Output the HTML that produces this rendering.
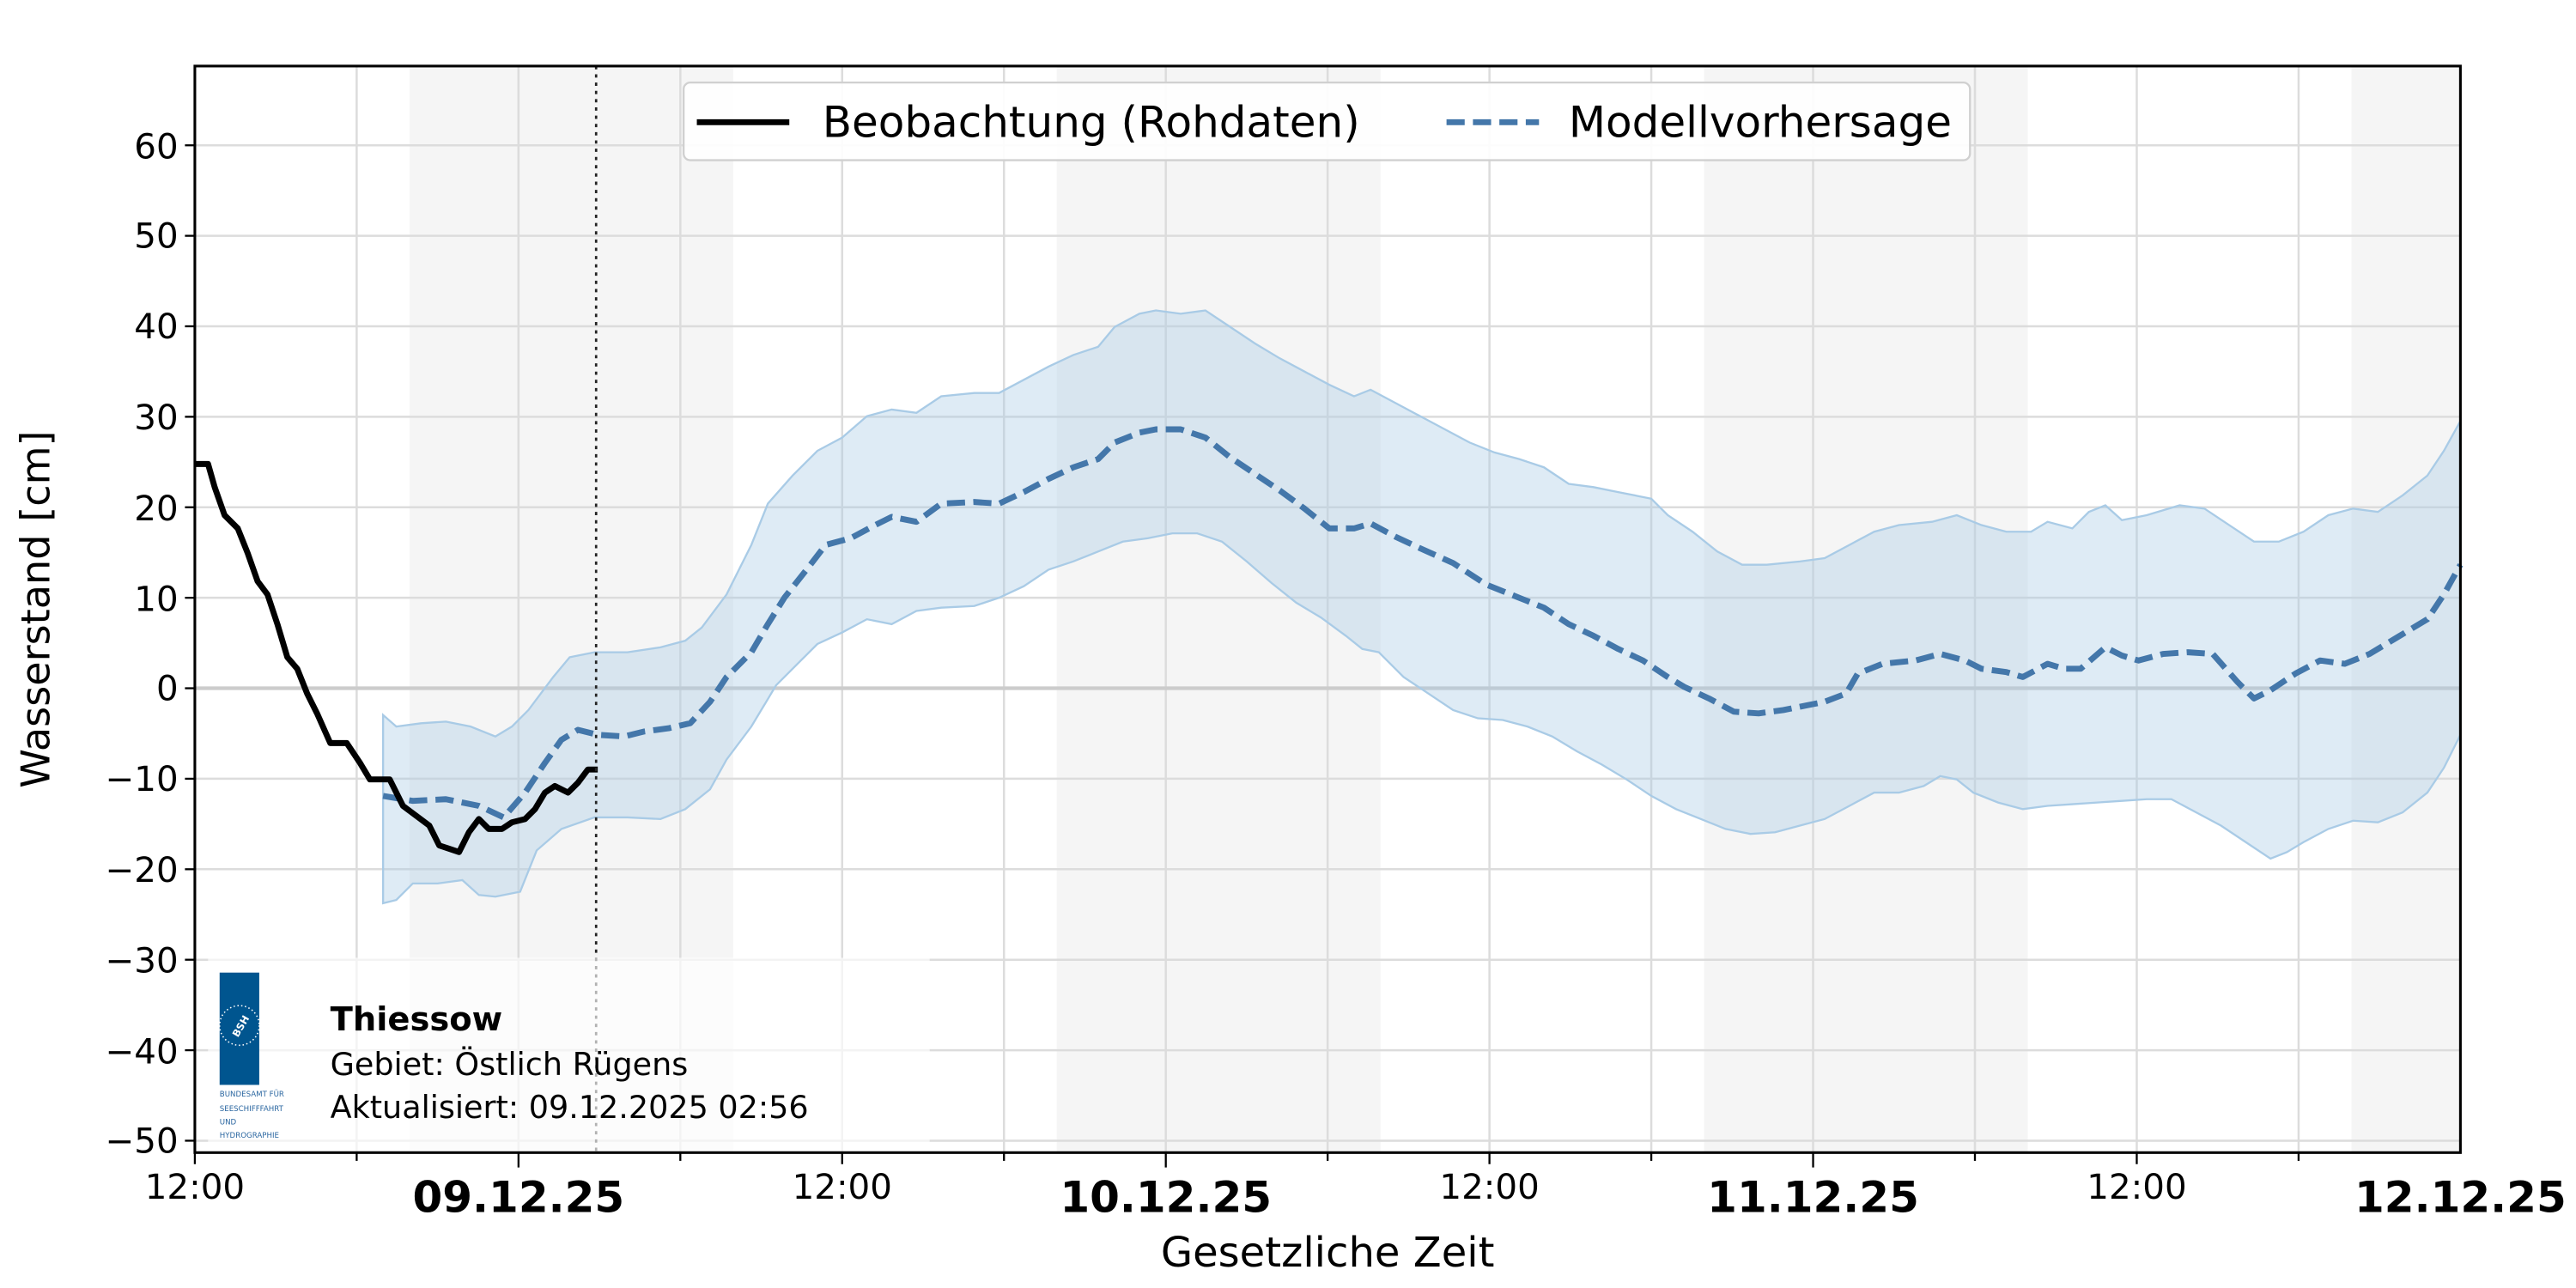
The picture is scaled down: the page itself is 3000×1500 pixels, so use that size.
<!DOCTYPE html>
<html><head><meta charset="utf-8"><style>html,body{margin:0;padding:0;background:#fff}svg{display:block}text{font-family:"DejaVu Sans","Liberation Sans",sans-serif}</style></head>
<body>
<svg width="3000" height="1500" viewBox="0 0 1560 780" xmlns="http://www.w3.org/2000/svg">
<rect width="1560" height="780" fill="#fff"/>
<g fill="#f5f5f5">
<rect x="248" y="40" width="196" height="658"/><rect x="640" y="40" width="196" height="658"/><rect x="1032" y="40" width="196" height="658"/><rect x="1424" y="40" width="66" height="658"/>
</g>
<g stroke="#dcdcdc" stroke-width="1.3">
<line x1="216" y1="40" x2="216" y2="698"/><line x1="314" y1="40" x2="314" y2="698"/><line x1="412" y1="40" x2="412" y2="698"/><line x1="510" y1="40" x2="510" y2="698"/><line x1="608" y1="40" x2="608" y2="698"/><line x1="706" y1="40" x2="706" y2="698"/><line x1="804" y1="40" x2="804" y2="698"/><line x1="902" y1="40" x2="902" y2="698"/><line x1="1000" y1="40" x2="1000" y2="698"/><line x1="1098" y1="40" x2="1098" y2="698"/><line x1="1196" y1="40" x2="1196" y2="698"/><line x1="1294" y1="40" x2="1294" y2="698"/><line x1="1392" y1="40" x2="1392" y2="698"/>
<line x1="118" y1="88" x2="1490" y2="88"/><line x1="118" y1="142.8" x2="1490" y2="142.8"/><line x1="118" y1="197.6" x2="1490" y2="197.6"/><line x1="118" y1="252.4" x2="1490" y2="252.4"/><line x1="118" y1="307.2" x2="1490" y2="307.2"/><line x1="118" y1="362" x2="1490" y2="362"/><line x1="118" y1="471.6" x2="1490" y2="471.6"/><line x1="118" y1="526.4" x2="1490" y2="526.4"/><line x1="118" y1="581.2" x2="1490" y2="581.2"/><line x1="118" y1="636" x2="1490" y2="636"/><line x1="118" y1="690.8" x2="1490" y2="690.8"/>
</g>
<line x1="118" y1="416.8" x2="1490" y2="416.8" stroke="#cccccc" stroke-width="2.2"/>
<polygon fill="#a9cbe6" fill-opacity="0.38" stroke="#a9cbe6" stroke-width="1.2" points="232,433 240,440 255,438 270,437 285,440 300,446 310,440 320,430 335,410 345,398 360,395 380,395 400,392 415,388 425,380 440,360 455,330 465,305 480,288 495,273 510,265 525,252 540,248 555,250 570,240 590,238 605,238 620,230 635,222 650,215 665,210 675,198 690,190 700,188 715,190 730,188 745,198 760,208 775,217 790,225 805,233 820,240 830,236 845,244 860,252 875,260 890,268 905,274 920,278 935,283 950,293 965,295 980,298 1000,302 1010,312 1025,322 1040,334 1055,342 1070,342 1090,340 1105,338 1120,330 1135,322 1150,318 1170,316 1185,312 1200,318 1215,322 1230,322 1240,316 1255,320 1265,310 1275,306 1285,315 1300,312 1320,306 1335,308 1350,318 1365,328 1380,328 1395,322 1410,312 1425,308 1440,310 1455,300 1470,288 1480,273 1490,255 1490,445 1480,465 1470,480 1455,492 1440,498 1425,497 1410,502 1395,510 1385,516 1375,520 1360,510 1345,500 1330,492 1315,484 1300,484 1285,485 1270,486 1255,487 1240,488 1225,490 1210,486 1195,480 1185,472 1175,470 1165,476 1150,480 1135,480 1120,488 1105,496 1090,500 1075,504 1060,505 1045,502 1030,496 1015,490 1000,482 985,472 970,463 955,455 940,446 925,440 910,436 895,435 880,430 865,420 850,410 835,395 825,393 815,385 800,374 785,365 770,353 755,340 740,328 725,323 710,323 695,326 680,328 665,334 650,340 635,345 620,355 605,362 590,367 570,368 555,370 540,378 525,375 510,383 495,390 485,400 470,415 455,440 440,460 430,478 415,490 400,496 380,495 360,495 340,502 325,515 315,540 300,543 290,542 280,533 265,535 250,535 240,545 232,547"/>
<polyline fill="none" stroke="#4477aa" stroke-width="3.6" stroke-dasharray="11,5" stroke-linejoin="round" points="232,482 250,485 270,484 290,488 305,495 318,480 330,462 340,448 350,442 362,445 378,446 390,443 405,441 418,438 430,425 440,410 455,395 465,378 475,362 490,343 500,330 515,326 530,318 540,313 555,316 570,305 590,304 605,305 620,298 635,290 650,283 665,278 675,268 690,262 700,260 715,260 730,265 745,277 760,287 775,297 790,308 805,320 820,320 830,317 845,325 860,332 880,341 900,354 920,362 935,368 950,378 965,385 980,393 995,400 1010,410 1020,416 1035,423 1050,431 1065,432 1080,430 1095,427 1105,425 1118,420 1125,408 1140,402 1160,400 1175,396 1190,400 1200,405 1215,407 1225,410 1240,402 1250,405 1260,405 1275,392 1285,397 1295,400 1310,396 1325,395 1340,396 1355,413 1365,423 1375,418 1390,408 1405,400 1420,402 1435,396 1450,387 1470,375 1480,360 1490,342"/>
<polyline fill="none" stroke="#000" stroke-width="3.6" stroke-linejoin="round" points="118,281 126,281 130,295 136,312 144,320 150,335 156,352 162,360 168,378 174,398 180,405 186,420 192,432 200,450 210,450 218,462 224,472 236,472 244,488 252,494 260,500 266,512 272,514 278,516 284,504 290,496 296,502 304,502 310,498 318,496 324,490 330,480 336,476 344,480 350,474 356,466 362,466"/>
<line x1="361" y1="40" x2="361" y2="698" stroke="#222" stroke-width="1.4" stroke-dasharray="2,3"/>
<rect x="126" y="580" width="437" height="118" fill="#fff" fill-opacity="0.65"/>
<rect x="133" y="589" width="24" height="68" fill="#00558f"/>
<circle cx="145" cy="621" r="12" fill="none" stroke="#fff" stroke-width="0.8" stroke-dasharray="0.8,1.5"/>
<text x="145" y="624" font-size="6" fill="#fff" text-anchor="middle" font-weight="bold" transform="rotate(-60 145 621)">BSH</text>
<g font-size="4.5" fill="#2a66a0"><text x="133" y="664">BUNDESAMT FÜR</text><text x="133" y="673">SEESCHIFFFAHRT</text><text x="133" y="681">UND</text><text x="133" y="689">HYDROGRAPHIE</text></g>
<text x="200" y="624" font-size="20" font-weight="bold">Thiessow</text>
<text x="200" y="651" font-size="19">Gebiet: Östlich Rügens</text>
<text x="200" y="677" font-size="19">Aktualisiert: 09.12.2025 02:56</text>
<rect x="414" y="50" width="779" height="47" rx="4" fill="#fff" fill-opacity="0.9" stroke="#d0d0d0" stroke-width="1.2"/>
<line x1="422" y1="74" x2="478" y2="74" stroke="#000" stroke-width="3.6"/>
<text x="498" y="83" font-size="26">Beobachtung (Rohdaten)</text>
<line x1="876" y1="74" x2="932" y2="74" stroke="#4477aa" stroke-width="3.6" stroke-dasharray="11,5"/>
<text x="950" y="83" font-size="26">Modellvorhersage</text>
<rect x="118" y="40" width="1372" height="658" fill="none" stroke="#000" stroke-width="1.6"/>
<g stroke="#000" stroke-width="1.2">
<line x1="112" y1="88" x2="118" y2="88"/><line x1="112" y1="142.8" x2="118" y2="142.8"/><line x1="112" y1="197.6" x2="118" y2="197.6"/><line x1="112" y1="252.4" x2="118" y2="252.4"/><line x1="112" y1="307.2" x2="118" y2="307.2"/><line x1="112" y1="362" x2="118" y2="362"/><line x1="112" y1="416.8" x2="118" y2="416.8"/><line x1="112" y1="471.6" x2="118" y2="471.6"/><line x1="112" y1="526.4" x2="118" y2="526.4"/><line x1="112" y1="581.2" x2="118" y2="581.2"/><line x1="112" y1="636" x2="118" y2="636"/><line x1="112" y1="690.8" x2="118" y2="690.8"/>
<line x1="118" y1="698" x2="118" y2="705"/><line x1="216" y1="698" x2="216" y2="703"/><line x1="314" y1="698" x2="314" y2="707"/><line x1="412" y1="698" x2="412" y2="703"/><line x1="510" y1="698" x2="510" y2="705"/><line x1="608" y1="698" x2="608" y2="703"/><line x1="706" y1="698" x2="706" y2="707"/><line x1="804" y1="698" x2="804" y2="703"/><line x1="902" y1="698" x2="902" y2="705"/><line x1="1000" y1="698" x2="1000" y2="703"/><line x1="1098" y1="698" x2="1098" y2="707"/><line x1="1196" y1="698" x2="1196" y2="703"/><line x1="1294" y1="698" x2="1294" y2="705"/><line x1="1392" y1="698" x2="1392" y2="703"/>
</g>
<g font-size="21" text-anchor="end">
<text x="108" y="96">60</text><text x="108" y="150">50</text><text x="108" y="205">40</text><text x="108" y="260">30</text><text x="108" y="315">20</text><text x="108" y="370">10</text><text x="108" y="424">0</text><text x="108" y="479">−10</text><text x="108" y="534">−20</text><text x="108" y="589">−30</text><text x="108" y="644">−40</text><text x="108" y="698">−50</text>
</g>
<g font-size="21" text-anchor="middle">
<text x="118" y="726">12:00</text><text x="510" y="726">12:00</text><text x="902" y="726">12:00</text><text x="1294" y="726">12:00</text>
</g>
<g font-size="26" font-weight="bold" text-anchor="middle">
<text x="314" y="734">09.12.25</text><text x="706" y="734">10.12.25</text><text x="1098" y="734">11.12.25</text><text x="1490" y="734">12.12.25</text>
</g>
<text x="804" y="767" font-size="25" text-anchor="middle">Gesetzliche Zeit</text>
<text x="30" y="369" font-size="24" text-anchor="middle" transform="rotate(-90 30 369)">Wasserstand [cm]</text>
</svg>
</body></html>
